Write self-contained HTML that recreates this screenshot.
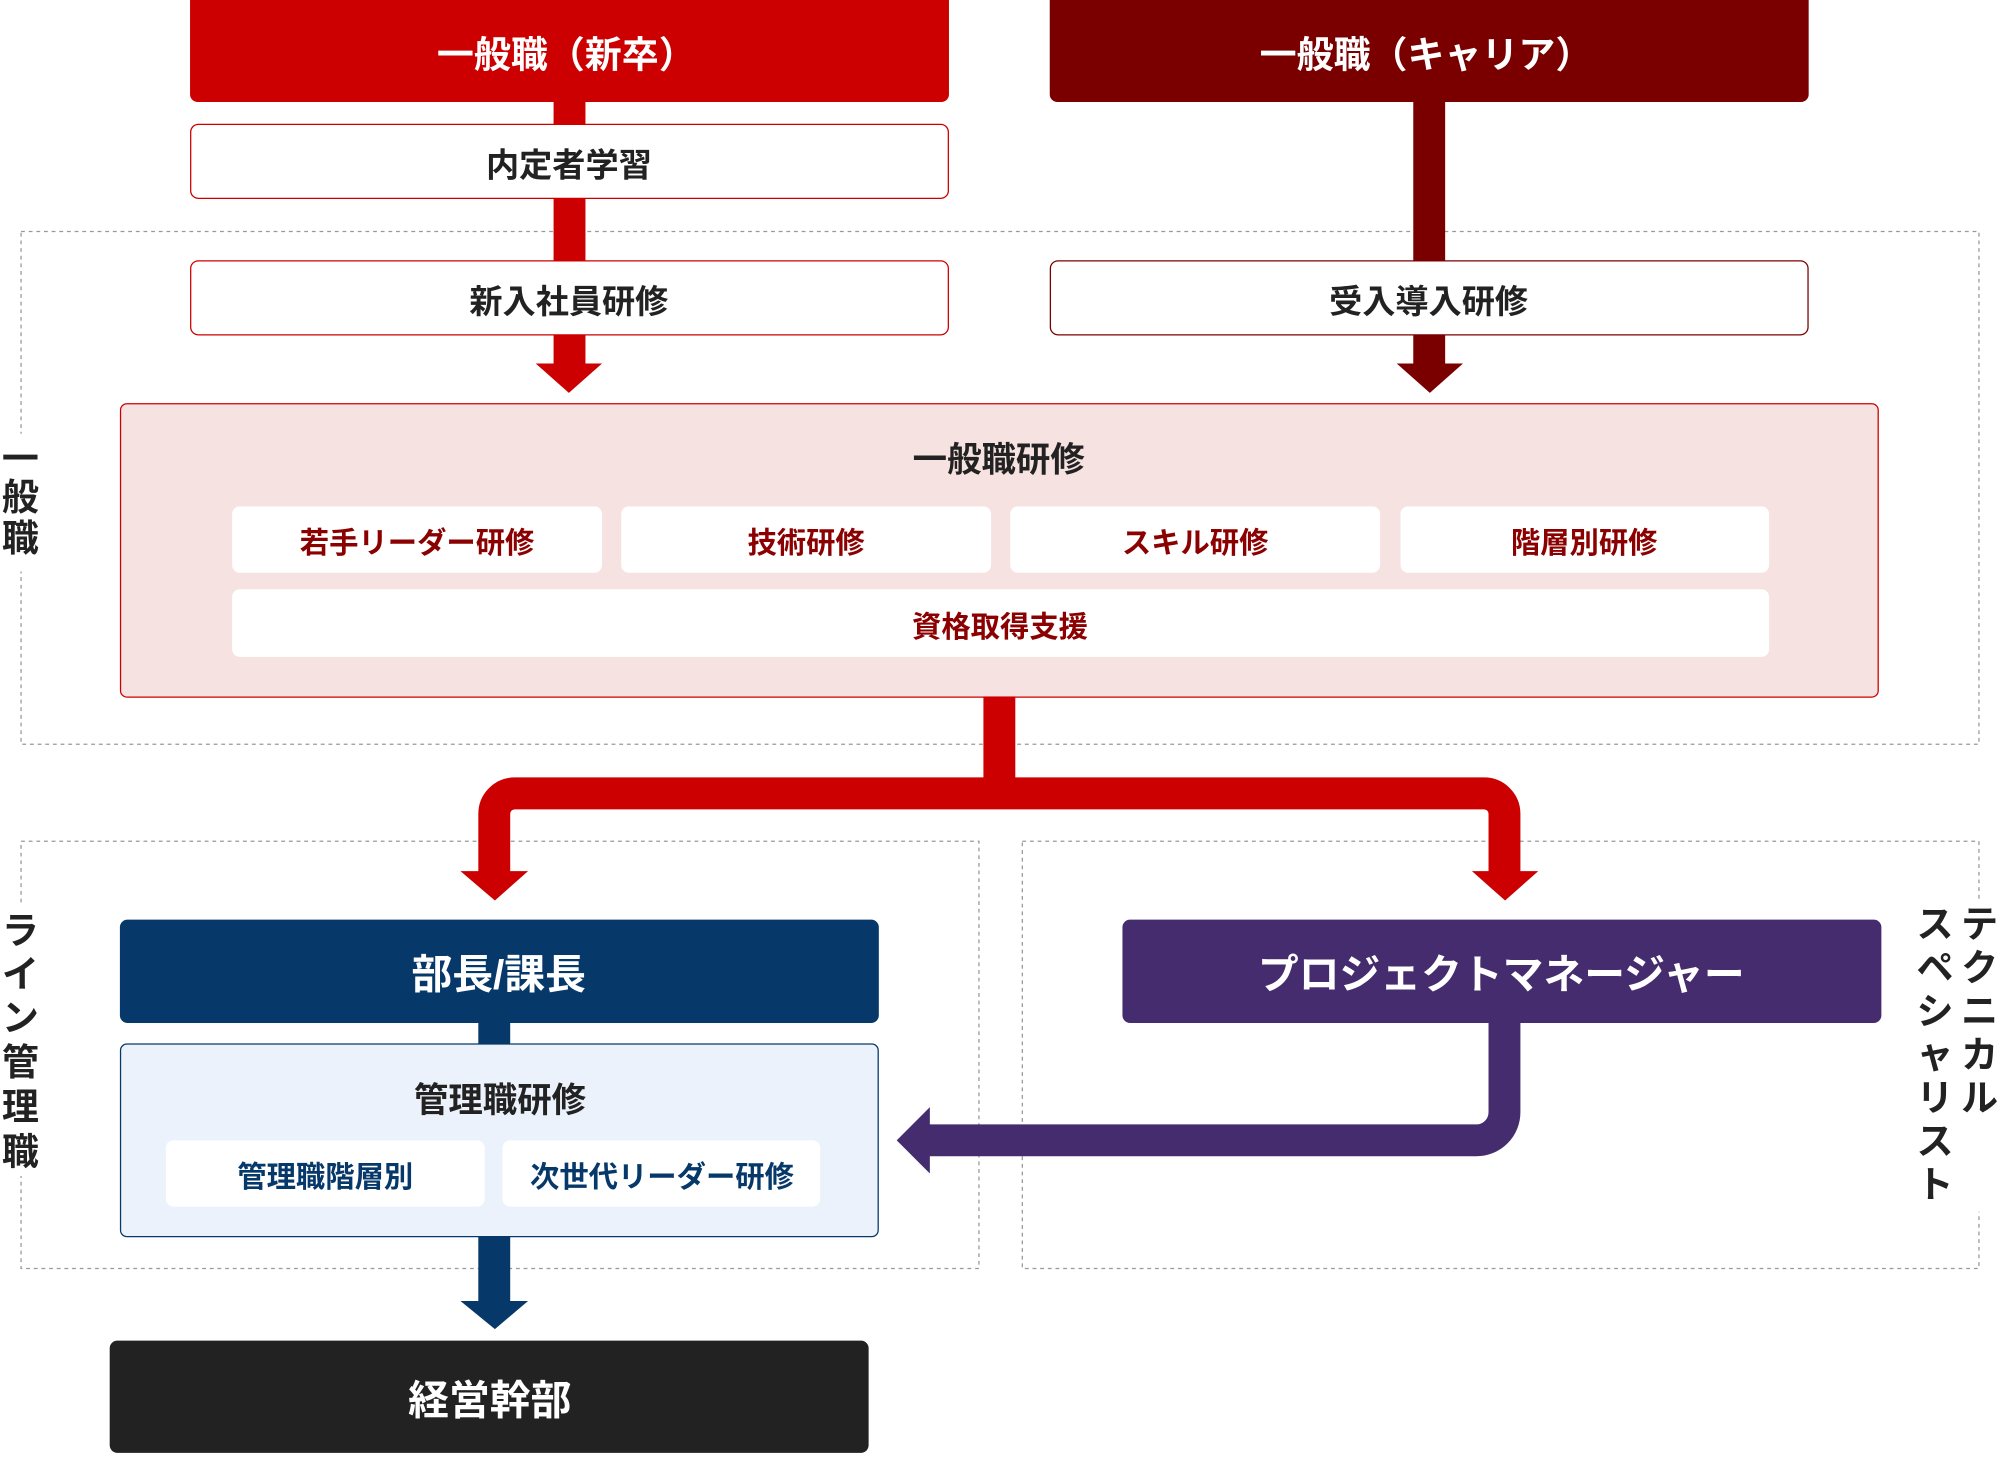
<!DOCTYPE html>
<html><head><meta charset="utf-8">
<style>
html,body{margin:0;padding:0;background:#fff;}
svg{display:block;}
text{font-family:"Liberation Sans","Noto Sans CJK JP",sans-serif;font-weight:bold;text-anchor:middle;dominant-baseline:central;}
</style></head>
<body>
<svg width="2000" height="1474" viewBox="0 0 1568 1155.6" xmlns="http://www.w3.org/2000/svg">
<rect width="1568" height="1156" fill="#fff"/>
<rect x="16.5" y="181.5" width="1535" height="402" fill="none" stroke="#999" stroke-dasharray="3,3"/>
<rect x="16.5" y="659.5" width="751" height="335" fill="none" stroke="#999" stroke-dasharray="3,3"/>
<rect x="801.5" y="659.5" width="750" height="335" fill="none" stroke="#999" stroke-dasharray="3,3"/>
<rect x="2" y="340" width="30" height="108" fill="#fff"/>
<text x="16" y="360" font-size="29" fill="#222">一</text>
<text x="16" y="390" font-size="29" fill="#222">般</text>
<text x="16" y="422" font-size="29" fill="#222">職</text>
<rect x="2" y="710" width="30" height="212" fill="#fff"/>
<g font-size="29" fill="#222">
<text x="16" y="730">ラ</text><text x="16" y="764">イ</text><text x="16" y="798">ン</text>
<text x="16" y="833">管</text><text x="16" y="868">理</text><text x="16" y="903">職</text>
</g>
<rect x="1500" y="705" width="68" height="245" fill="#fff"/>
<g font-size="29" fill="#222">
<text x="1552" y="725">テ</text><text x="1552" y="759">ク</text><text x="1552" y="793">ニ</text><text x="1552" y="827">カ</text><text x="1552" y="861">ル</text>
<text x="1517" y="725">ス</text><text x="1517" y="759">ペ</text><text x="1517" y="793">シ</text><text x="1517" y="827">ャ</text><text x="1517" y="861">リ</text><text x="1517" y="895">ス</text><text x="1517" y="929">ト</text>
</g>
<rect x="434" y="70" width="25" height="216" fill="#cc0000"/>
<polygon points="420,285 472,285 446,308" fill="#cc0000"/>
<rect x="1108" y="70" width="25" height="216" fill="#7a0000"/>
<polygon points="1095,285 1147,285 1121,308" fill="#7a0000"/>
<path d="M149 0H744V74a6 6 0 0 1-6 6H155a6 6 0 0 1-6-6Z" fill="#cc0000"/>
<text x="444" y="43" font-size="29" fill="#fff">一般職（新卒）</text>
<path d="M823 0H1418V74a6 6 0 0 1-6 6H829a6 6 0 0 1-6-6Z" fill="#7a0000"/>
<text x="1118" y="43" font-size="29" fill="#fff">一般職（キャリア）</text>
<rect x="149.5" y="97.5" width="594" height="58" rx="6" fill="#fff" stroke="#cc0000"/>
<text x="446" y="130" font-size="26" fill="#222">内定者学習</text>
<rect x="149.5" y="204.5" width="594" height="58" rx="6" fill="#fff" stroke="#cc0000"/>
<text x="446" y="237" font-size="26" fill="#222">新入社員研修</text>
<rect x="823.5" y="204.5" width="594" height="58" rx="6" fill="#fff" stroke="#7a0000"/>
<text x="1120" y="237" font-size="26" fill="#222">受入導入研修</text>
<rect x="94.5" y="316.5" width="1378" height="230" rx="5" fill="#f7e2e2" stroke="#cc0000"/>
<text x="783" y="361" font-size="27" fill="#222">一般職研修</text>
<g fill="#fff">
<rect x="182" y="397" width="290" height="52" rx="6"/>
<rect x="487" y="397" width="290" height="52" rx="6"/>
<rect x="792" y="397" width="290" height="52" rx="6"/>
<rect x="1098" y="397" width="289" height="52" rx="6"/>
<rect x="182" y="462" width="1205" height="53" rx="6"/>
</g>
<g font-size="23" fill="#8b0000">
<text x="327" y="426">若手リーダー研修</text>
<text x="632" y="426">技術研修</text>
<text x="937" y="426">スキル研修</text>
<text x="1242" y="426">階層別研修</text>
<text x="784" y="492">資格取得支援</text>
</g>
<rect x="771" y="546" width="25" height="78" fill="#cc0000"/>
<path d="M387.5 684V638a16 16 0 0 1 16-16H1163.5a16 16 0 0 1 16 16V684" fill="none" stroke="#cc0000" stroke-width="25"/>
<polygon points="361,683 414,683 388,706" fill="#cc0000"/>
<polygon points="1154,683 1206,683 1180,706" fill="#cc0000"/>
<path d="M1179.5 800V872a22 22 0 0 1-22 22H728" fill="none" stroke="#452c6e" stroke-width="25"/>
<polygon points="729,868 729,920 703,894" fill="#452c6e"/>
<rect x="375" y="800" width="25" height="20" fill="#07386a"/>
<rect x="375" y="968" width="25" height="54" fill="#07386a"/>
<polygon points="361,1020 414,1020 388,1042" fill="#07386a"/>
<rect x="94" y="721" width="595" height="81" rx="6" fill="#07386a"/>
<text x="391" y="764" font-size="32" fill="#fff">部長/課長</text>
<rect x="94.5" y="818.5" width="594" height="151" rx="5" fill="#ebf2fb" stroke="#07386a"/>
<text x="392" y="863" font-size="27" fill="#222">管理職研修</text>
<rect x="130" y="894" width="250" height="52" rx="6" fill="#fff"/>
<rect x="394" y="894" width="249" height="52" rx="6" fill="#fff"/>
<text x="255" y="923" font-size="23" fill="#07386a">管理職階層別</text>
<text x="519" y="923" font-size="23" fill="#07386a">次世代リーダー研修</text>
<rect x="880" y="721" width="595" height="81" rx="6" fill="#452c6e"/>
<text x="1177" y="764" font-size="32" fill="#fff">プロジェクトマネージャー</text>
<rect x="86" y="1051" width="595" height="88" rx="6" fill="#222"/>
<text x="384" y="1098" font-size="32" fill="#fff">経営幹部</text>
</svg>
</body></html>
